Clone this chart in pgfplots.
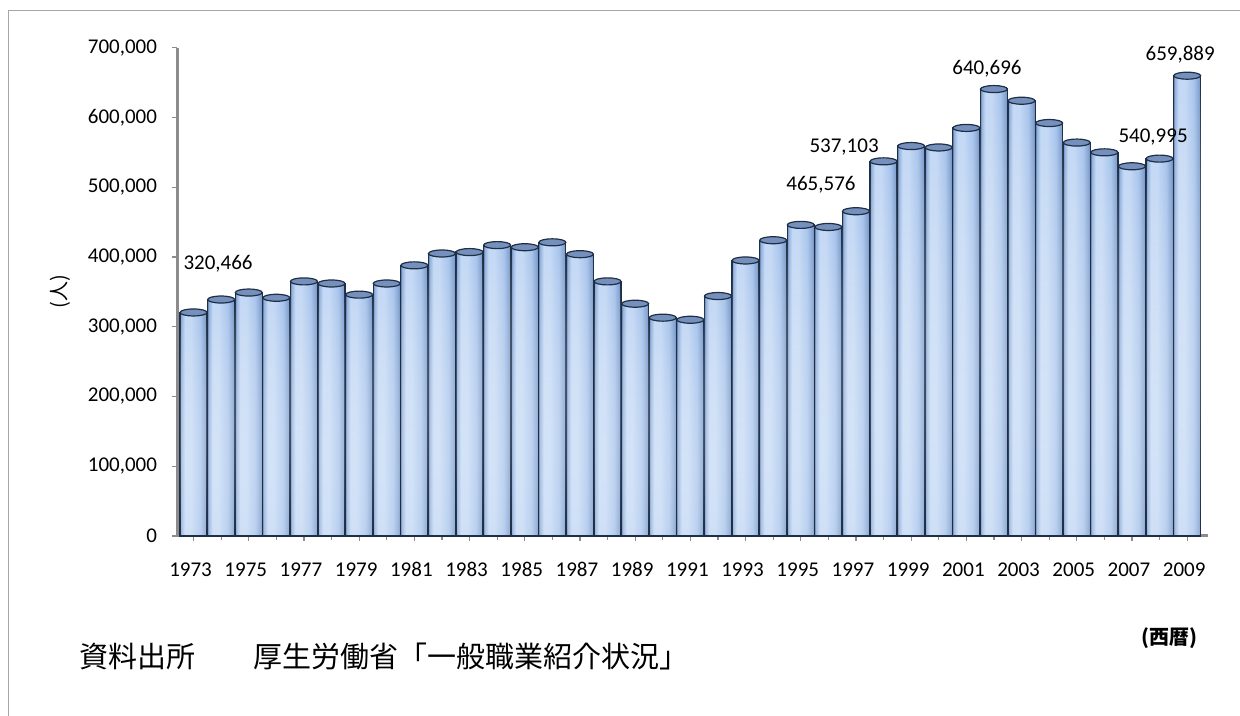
\documentclass[border=0pt]{standalone}
\usepackage{pgfplots}
\pgfplotsset{compat=1.18}
\usepackage{pgfplotstable}
\usetikzlibrary{fadings}
\usepackage{fontspec}
\setmainfont{Carlito}
\newfontfamily\cjk{Noto Sans CJK JP}

\definecolor{barEdge}{HTML}{1E2E44}
\definecolor{capFill}{HTML}{7590BC}
\definecolor{axisGray}{HTML}{8C8C8C}
\definecolor{frameGray}{HTML}{A6A6A6}
\definecolor{cE}{HTML}{5A78A6}
\definecolor{cL}{HTML}{8FAFDC}
\definecolor{cB}{HTML}{C4D9F5}
\definecolor{cM}{HTML}{A9C5EC}
\definecolor{cR}{HTML}{7F9FCF}
\definecolor{cRR}{HTML}{5C7BA8}

\pgfdeclarehorizontalshading{cyl}{100bp}{color(0bp)=(cE); color(25bp)=(cE); color(27bp)=(cL); color(34bp)=(cB); color(45bp)=(cB); color(62bp)=(cM); color(72bp)=(cR); color(75bp)=(cRR); color(100bp)=(cRR)}

\pgfplotstableread{
year value
1973 320466
1974 339000
1975 349000
1976 341500
1977 365000
1978 362000
1979 346000
1980 362000
1981 388000
1982 405000
1983 407000
1984 417000
1985 414000
1986 421000
1987 404000
1988 365000
1989 333000
1990 313000
1991 310000
1992 344000
1993 395000
1994 424000
1995 446000
1996 443000
1997 465576
1998 537103
1999 559000
2000 557000
2001 585000
2002 640696
2003 624000
2004 592000
2005 564000
2006 550000
2007 530000
2008 540995
2009 659889
}\datatable

\pgfplotstableread{
year value dx dy lab
1973 320466 12.25 24.5 320,466
1997 465576 -17.5 13 465,576
1998 537103 -19.75 7.3 537,103
2002 640696 -3.5 10.35 640,696
2008 540995 -3.25 10.65 540,995
2009 659889 -3.5 10.35 659,889
}\labeltable

\pgfdeclareplotmark{cyltop}{%
  \pgfpathellipse{\pgfpointorigin}{\pgfqpoint{\pgfplotmarksize}{0pt}}{\pgfqpoint{0pt}{0.26\pgfplotmarksize}}%
  \pgfusepathqfillstroke}

\begin{document}
\begin{tikzpicture}
\useasboundingbox (0,0) rectangle (620bp,358bp);
\draw[frameGray, line width=0.6bp] (4.15bp,-2bp) -- (4.15bp,352.65bp) -- (625bp,352.65bp);
\begin{axis}[
  at={(88.5bp,90bp)}, anchor=south west,
  scale only axis, width=515.43bp, height=244.15bp,
  xmin=1972.4, xmax=2009.75, ymin=0, ymax=700000,
  axis x line=bottom, axis y line=left,
  axis line style={-, axisGray, line width=1.5bp},
  xtick={1973,1975,...,2009},
  minor xtick={1974,1976,...,2008},
  ytick={0,100000,200000,300000,400000,500000,600000,700000},
  tick align=outside,
  major tick length=2.5bp, minor tick length=2bp,
  tick style={axisGray, line width=0.6bp},
  scaled y ticks=false,
  /pgf/number format/assume math mode=true,
  tick label style={font=\fontsize{10.5bp}{12bp}\selectfont, text=black},
  yticklabel style={xshift=-4bp, /pgf/number format/.cd, fixed, 1000 sep={,}},
  xticklabel style={anchor=base, yshift=-18bp, xshift=-1.5bp, /pgf/number format/1000 sep={}},
  clip=false,
]
\pgfplotsinvokeforeach{1973,...,2009}{
\addplot[ybar, bar width=0.98, draw=barEdge, line width=0.6bp,
  shade, shading=cyl,
  postaction={fill=white, path fading=north, fill opacity=0.75},
  x filter/.expression={abs(x-#1)<0.3 ? x : nan}]
  table[x=year, y=value]{\datatable};
}
\addplot[only marks, mark=cyltop, mark size=6.76pt,
  mark options={fill=capFill, draw=barEdge, line width=0.6bp}]
  table[x=year, y=value]{\datatable};
\addplot[draw=none, mark=none, nodes near coords, point meta=explicit symbolic,
  visualization depends on={\thisrow{dx}\as\dx},
  visualization depends on={\thisrow{dy}\as\dy},
  nodes near coords style={anchor=center, xshift=\dx*1bp, yshift=\dy*1bp,
    font=\fontsize{10.5bp}{12bp}\selectfont, text=black}]
  table[x=year, y=value, meta=lab]{\labeltable};
\end{axis}
\node[rotate=90, font=\cjk\fontsize{10bp}{12bp}\selectfont] at (30bp,212.25bp) {(人)};
\node[anchor=west, inner sep=0pt, font=\cjk\fontsize{14.5bp}{17bp}\selectfont] at (39.5bp,30bp) {資料出所　　厚生労働省「一般職業紹介状況」};
\node[font=\cjk\bfseries\fontsize{10bp}{12bp}\selectfont] at (584.5bp,39bp) {(西暦)};
\end{tikzpicture}
\end{document}
